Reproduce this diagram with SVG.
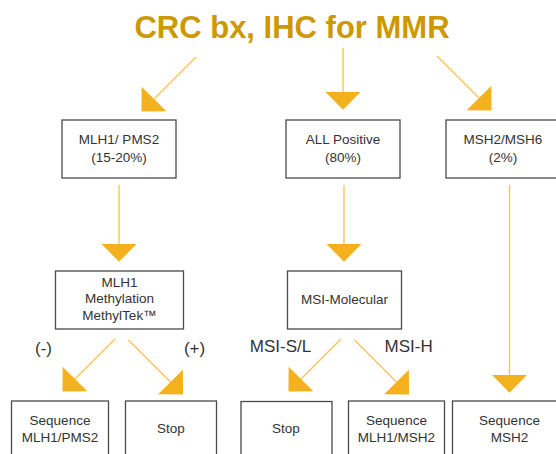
<svg xmlns="http://www.w3.org/2000/svg" width="556" height="454" viewBox="0 0 556 454">
<style>
.box{fill:#fff;stroke:#4a4a4a;stroke-width:1.3}
.t{font-family:"Liberation Sans",Arial,sans-serif;font-size:13.5px;fill:#333;text-anchor:middle}
.lbl{font-family:"Liberation Sans",Arial,sans-serif;font-size:17px;fill:#333;text-anchor:middle}
.title{font-family:"Liberation Sans",Arial,sans-serif;font-size:31px;font-weight:bold;fill:#CC9900;text-anchor:middle}
.c{stroke:#F7C55A;stroke-width:1.4;fill:none;marker-end:url(#ah)}
</style>
<defs>
<marker id="ah" markerUnits="userSpaceOnUse" viewBox="0 0 18 36" markerWidth="18" markerHeight="36" refX="0" refY="18" orient="auto" overflow="visible">
<path d="M0,0.5 L17.7,18 L0,35.5 Z" fill="#F4B11E"/>
</marker>
</defs>
<rect width="556" height="454" fill="#fff"/>
<text class="title" x="292" y="37.5">CRC bx, IHC for MMR</text>
<g id="connectors">
<line class="c" x1="196" y1="57" x2="154" y2="99"/>
<line class="c" x1="343" y1="48" x2="343" y2="92"/>
<line class="c" x1="437" y1="56" x2="479" y2="98"/>
<line class="c" x1="119" y1="185" x2="119" y2="244"/>
<line class="c" x1="344" y1="185" x2="344" y2="244"/>
<line class="c" x1="509.5" y1="185" x2="509.5" y2="375"/>
<line class="c" x1="115" y1="339" x2="75" y2="379"/>
<line class="c" x1="128.5" y1="340" x2="170.5" y2="382"/>
<line class="c" x1="341" y1="339" x2="301" y2="379"/>
<line class="c" x1="354.5" y1="340" x2="396.5" y2="382"/>
<text class="lbl" x="43.5" y="354">(-)</text>
<text class="lbl" x="194.5" y="354">(+)</text>
<text class="lbl" x="280.5" y="352">MSI-S/L</text>
<text class="lbl" x="408.7" y="352">MSI-H</text>
</g>
<g id="n_mlh1pms2">
<rect class="box" x="62" y="120" width="114" height="58"/>
<text class="t" x="119" y="144">MLH1/ PMS2</text>
<text class="t" x="119" y="161.7">(15-20%)</text>
</g>
<g id="n_allpos">
<rect class="box" x="286" y="120" width="114" height="58"/>
<text class="t" x="343" y="144">ALL Positive</text>
<text class="t" x="343" y="161.7">(80%)</text>
</g>
<g id="n_msh2msh6">
<rect class="box" x="446" y="120" width="114" height="58"/>
<text class="t" x="503" y="144">MSH2/MSH6</text>
<text class="t" x="503" y="161.7">(2%)</text>
</g>
<g id="n_meth">
<rect class="box" x="55.5" y="271" width="128" height="58"/>
<text class="t" x="119.5" y="286.7">MLH1</text>
<text class="t" x="119.5" y="303.2">Methylation</text>
<text class="t" x="119.5" y="319.5">MethylTek™</text>
</g>
<g id="n_msimol">
<rect class="box" x="287.5" y="271" width="114" height="58"/>
<text class="t" x="344.5" y="303.5">MSI-Molecular</text>
</g>
<g id="n_seq1">
<rect class="box" x="11.5" y="401" width="97" height="60"/>
<text class="t" x="60" y="425">Sequence</text>
<text class="t" x="60" y="441.7">MLH1/PMS2</text>
</g>
<g id="n_stop1">
<rect class="box" x="125.5" y="401" width="91" height="60"/>
<text class="t" x="171" y="433">Stop</text>
</g>
<g id="n_stop2">
<rect class="box" x="241" y="401.5" width="91" height="60"/>
<text class="t" x="286" y="433">Stop</text>
</g>
<g id="n_seq2">
<rect class="box" x="348.5" y="401" width="96" height="60"/>
<text class="t" x="396.5" y="425">Sequence</text>
<text class="t" x="396.5" y="441.7">MLH1/MSH2</text>
</g>
<g id="n_seq3">
<rect class="box" x="452.5" y="401" width="114" height="60"/>
<text class="t" x="509.5" y="425">Sequence</text>
<text class="t" x="509.5" y="441.7">MSH2</text>
</g>
</svg>
